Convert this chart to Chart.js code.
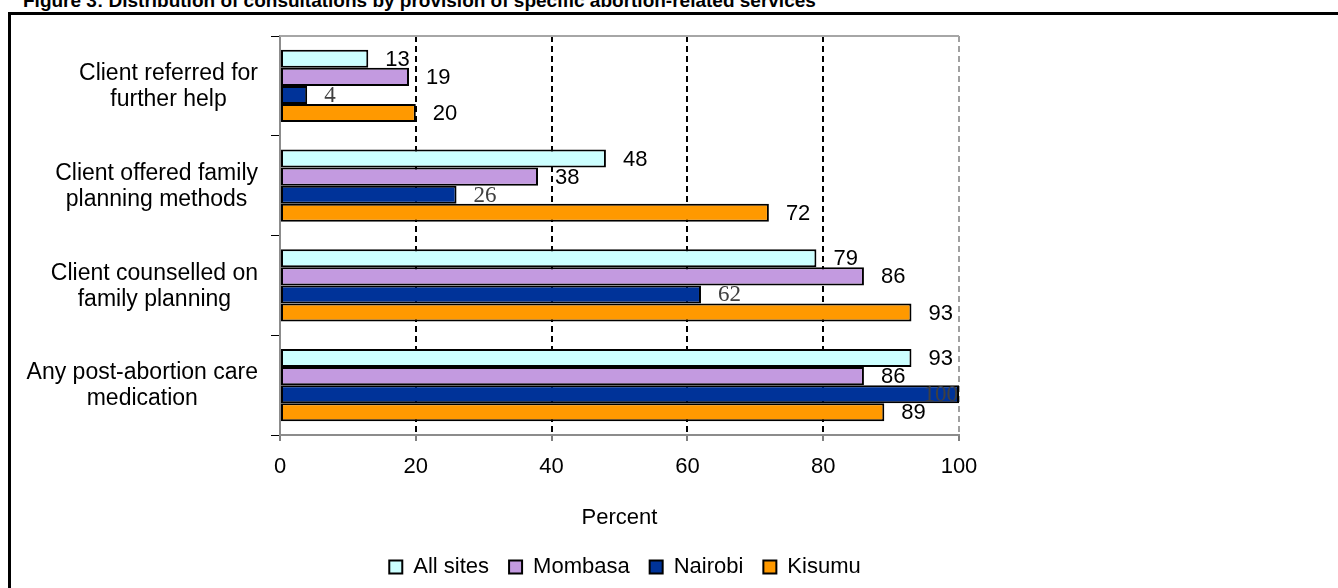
<!DOCTYPE html>
<html>
<head>
<meta charset="utf-8">
<script src="https://cdn.jsdelivr.net/npm/chart.js@4.4.1/dist/chart.umd.min.js"></script>
<style>
  html, body { margin: 0; padding: 0; background: #fff; overflow: hidden; width: 1338px; height: 588px; }
  #title { position: absolute; left: 23px; top: -9px; font: bold 19px "Liberation Sans", Arial, sans-serif; line-height: 19px; white-space: nowrap; color: #000; }
  #frame { position: absolute; left: 8px; top: 12px; width: 1400px; height: 700px; border: 3px solid #000; box-sizing: border-box; }
  #chart { position: absolute; left: 0; top: 0; }
</style>
</head>
<body>
<div id="title">Figure 3: Distribution of consultations by provision of specific abortion-related services</div>
<div id="frame"></div>
<canvas id="chart" width="1250" height="591"></canvas>
<script>
const categories = [
  ['Client referred for', 'further help'],
  ['Client offered family', 'planning methods'],
  ['Client counselled on', 'family planning'],
  ['Any post-abortion care', 'medication']
];
const seriesNames = ['All sites', 'Mombasa', 'Nairobi', 'Kisumu'];
const allSites = [13, 48, 79, 93];
const mombasa = [19, 38, 86, 86];
const nairobi = [4, 26, 62, 100];
const kisumu = [20, 72, 93, 89];
const xTicks = [0, 20, 40, 60, 80, 100];

const sans = '"Liberation Sans", Arial, sans-serif';
const serif = '"Liberation Serif", "Times New Roman", serif';
Chart.defaults.font.family = sans;
Chart.defaults.color = '#000';

// category names: block sits right next to the axis, lines centred inside the block
const categoryLabels = {
  id: 'categoryLabels',
  afterDraw(chart) {
    const y = chart.scales.y;
    const ctx = chart.ctx;
    ctx.save();
    ctx.font = '23px ' + sans;
    ctx.fillStyle = '#000';
    ctx.textAlign = 'center';
    ctx.textBaseline = 'middle';
    const lh = 26;
    chart.data.labels.forEach((lines, i) => {
      const w = Math.max(...lines.map(l => ctx.measureText(l).width));
      const cx = y.right - 22 - w / 2;
      const cy = y.getPixelForTick(i) + 1;
      lines.forEach((l, k) => ctx.fillText(l, cx, cy + (k - (lines.length - 1) / 2) * lh));
    });
    ctx.restore();
  }
};

// value labels at the end of each bar
const valueLabels = {
  id: 'valueLabels',
  afterDatasetsDraw(chart) {
    const ctx = chart.ctx;
    const area = chart.chartArea;
    chart.data.datasets.forEach((ds, di) => {
      const meta = chart.getDatasetMeta(di);
      ctx.save();
      ctx.font = ds.labelFont;
      ctx.fillStyle = ds.labelColor;
      ctx.textAlign = 'left';
      ctx.textBaseline = 'middle';
      meta.data.forEach((bar, i) => {
        const txt = String(ds.data[i]);
        const w = ctx.measureText(txt).width;
        let x = bar.x + 17;
        if (x + w > area.right) x = area.right - w - 1;
        ctx.fillText(txt, x, bar.y + 1);
      });
      ctx.restore();
    });
  }
};

// grey line on top of the plot area
const topEdge = {
  id: 'topEdge',
  afterDraw(chart) {
    const { ctx, chartArea: a } = chart;
    ctx.save();
    ctx.strokeStyle = '#a6a6a6';
    ctx.lineWidth = 2;
    ctx.beginPath();
    ctx.moveTo(a.left, a.top);
    ctx.lineTo(a.right, a.top);
    ctx.stroke();
    ctx.restore();
  }
};

new Chart(document.getElementById('chart').getContext('2d'), {
  type: 'bar',
  data: {
    labels: categories,
    datasets: [
      { label: seriesNames[0], data: allSites, backgroundColor: '#CCFFFF', labelFont: '22px ' + sans, labelColor: '#000' },
      { label: seriesNames[1], data: mombasa, backgroundColor: '#C39AE0', labelFont: '22px ' + sans, labelColor: '#000' },
      { label: seriesNames[2], data: nairobi, backgroundColor: '#003399', labelFont: '23px ' + serif, labelColor: '#404040' },
      { label: seriesNames[3], data: kisumu, backgroundColor: '#FF9900', labelFont: '22px ' + sans, labelColor: '#000' }
    ].map(d => Object.assign(d, { borderColor: '#000', borderWidth: 2, borderSkipped: false }))
  },
  options: {
    indexAxis: 'y',
    responsive: false,
    animation: false,
    categoryPercentage: 0.725,
    barPercentage: 1,
    layout: { padding: { top: 36, right: 0, bottom: 3, left: 0 } },
    plugins: {
      tooltip: { enabled: false },
      legend: {
        position: 'bottom',
        labels: { boxWidth: 13, boxHeight: 13, padding: 20, font: { size: 22 }, color: '#000' }
      }
    },
    scales: {
      x: {
        min: 0,
        max: 100,
        afterBuildTicks: s => { s.ticks = xTicks.map(v => ({ value: v })); },
        ticks: { font: { size: 22 }, color: '#000', padding: 13, maxRotation: 0 },
        grid: {
          color: c => c.index === 0 ? 'rgba(0,0,0,0)' : (c.tick && c.tick.value === 100 ? '#a0a0a0' : '#000'),
          lineWidth: 2,
          tickColor: '#000',
          tickLength: 6,
          tickWidth: 1
        },
        border: { color: '#8c8c8c', width: 2, dash: [6, 4] },
        title: { display: true, text: 'Percent', font: { size: 22 }, color: '#000', padding: { top: 0, bottom: 5 } },
        afterFit: s => { s.height = 101; }
      },
      y: {
        ticks: { display: false },
        grid: { drawOnChartArea: false, color: '#000', tickLength: 9, lineWidth: 1 },
        border: { color: '#8c8c8c', width: 2 },
        afterFit: s => { s.width = 280; }
      },
      // empty space on the right so the legend centres like the original
      spacer: {
        type: 'linear',
        axis: 'y',
        position: 'right',
        ticks: { display: false },
        grid: { display: false },
        border: { display: false },
        afterFit: s => { s.width = 291; }
      }
    }
  },
  plugins: [categoryLabels, valueLabels, topEdge]
});
</script>
</body>
</html>
